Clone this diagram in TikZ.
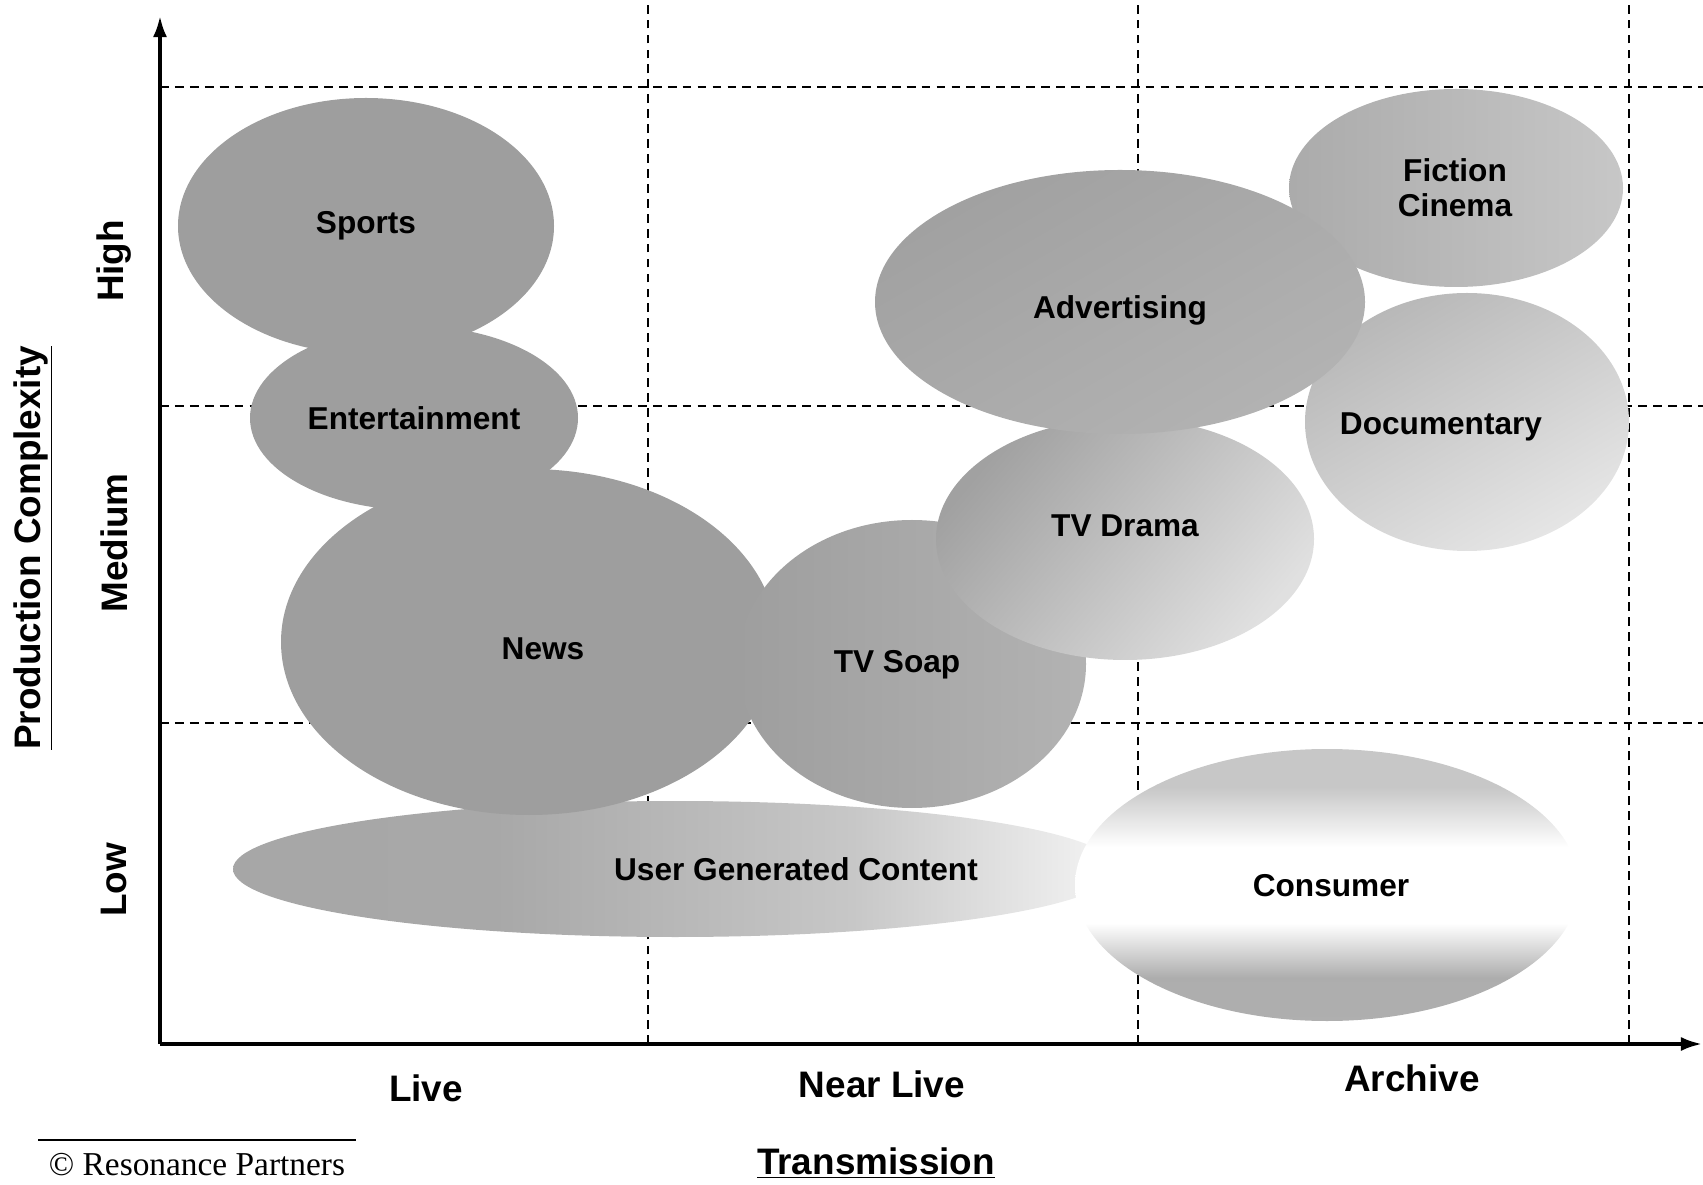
\documentclass[tikz,border=0pt]{standalone}
\usepackage{fontspec}
\setmainfont{Liberation Serif}
\setsansfont{Liberation Sans}
\usepackage{tikz}
\usetikzlibrary{positioning,arrows.meta,shapes.geometric}
\tikzstyle{axis} = [draw,line width=2pt,-{Latex[length=12pt,width=8pt]}]
\tikzstyle{grid line} = [draw,line width=0.8pt,dash pattern=on 5pt off 3.5pt]
\tikzstyle{tag} = [font=\sffamily\bfseries\fontsize{18}{20}\selectfont,align=center,inner sep=0pt]
\tikzstyle{axis label} = [font=\sffamily\bfseries\fontsize{21}{24}\selectfont,inner sep=0pt]
% fades for the two low bubbles
\pgfdeclarehorizontalshading{ugcfade}{100bp}{color(0bp)=(black!36); color(40bp)=(black!34); color(60bp)=(black!22); color(75bp)=(black!4); color(100bp)=(black!4)}
\pgfdeclareverticalshading{consumerband}{100bp}{color(0bp)=(black!30); color(33bp)=(black!32); color(43bp)=(white); color(57bp)=(white); color(68bp)=(black!22); color(100bp)=(black!22)}

\begin{document}
\begin{tikzpicture}[x=0.02cm,y=0.02cm]
  \useasboundingbox (0,0) rectangle (1703,1184);
  % grid
  \foreach \gy in {461,778,1097}
    \path[grid line] (160,\gy) -- (1703,\gy);
  \foreach \gx in {648,1138,1629}
    \path[grid line] (\gx,140) -- (\gx,1184);
  % bubbles
  \shade[shading=ugcfade] (675,315) ellipse (442 and 68);
  \shade[shading=consumerband] (1327,299) ellipse (252 and 136);
  \fill[black!38] (529,542) ellipse (248 and 173);
  \shade[left color=black!38, right color=black!30] (912,520) ellipse (174 and 144);
  \fill[black!38] (414,766) ellipse (164 and 92);
  \fill[black!38] (366,958) ellipse (188 and 128);
  \shade[top color=black!28, bottom color=black!10, shading angle=30] (1467,762) ellipse (162 and 129);
  \shade[left color=black!33, right color=black!22] (1456,996) ellipse (167 and 99);
  \shade[top color=black!37, bottom color=black!12, shading angle=50] (1125,645) ellipse (189 and 121);
  \shade[top color=black!37, bottom color=black!30, shading angle=30] (1120,882) ellipse (245 and 132);
  % texts
  \node[tag] (sports) at (366,958) {Sports};
  \node[tag] (entertainment) at (414,766) {Entertainment};
  \node[tag] (news) at (543,535) {News};
  \node[tag] (tvsoap) at (897,519) {TV Soap};
  \node[tag] (tvdrama) at (1125,658) {TV Drama};
  \node[tag] (advertising) at (1120,874) {Advertising};
  \node[tag] (fiction) at (1455,996) {Fiction\\Cinema};
  \node[tag] (documentary) at (1441,757) {Documentary};
  \node[tag] (ugc) at (796,315) {User Generated Content};
  \node[tag] (consumer) at (1331,298) {Consumer};
  % axes
  \coordinate (origin) at (160,140);
  \coordinate (ytop) at (160,1168);
  \coordinate (xend) at (1702,140);
  \path[axis] (origin) -- (ytop);
  \path[axis] (origin) -- (xend);
  \node[axis label,rotate=90] (high) at (114,923) {High};
  \node[axis label,rotate=90] (medium) at (114,641) {Medium};
  \node[axis label,rotate=90] (low) at (114,304) {Low};
  \node[axis label,rotate=90] (complexity) at (33,636) {\underline{Production Complexity}};
  \node[axis label] (live) at (426,96) {Live};
  \node[axis label] (nearlive) at (882,100) {Near Live};
  \node[axis label] (archive) at (1412,106) {Archive};
  \node[axis label] (transmission) at (876,21) {\underline{Transmission}};
  % source
  \node[font=\fontsize{19}{22}\selectfont,inner sep=0pt] (source) at (197,19) {© Resonance Partners};
  \draw[line width=0.8pt] (38,44) -- (356,44);
\end{tikzpicture}
\end{document}
